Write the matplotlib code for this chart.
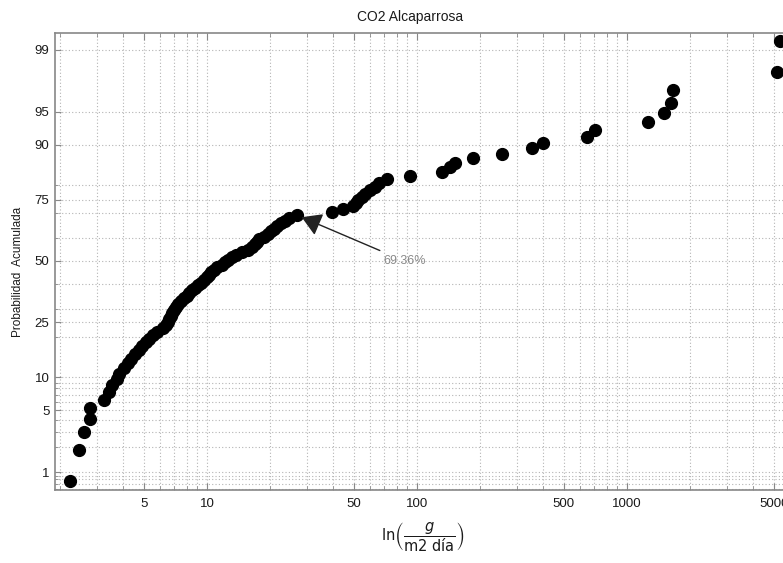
from statistics import NormalDist
import numpy as np
import matplotlib
matplotlib.use("Agg")
from matplotlib import pyplot as plt
from matplotlib.ticker import FixedLocator, LogLocator, FuncFormatter, NullFormatter

plt.rcParams['font.family'] = ['Liberation Sans', 'DejaVu Sans']

# flux values (sorted) and their cumulative probability (%)
flux = [2.23, 2.46, 2.60, 2.77, 2.77, 3.24, 3.43, 3.54, 3.72, 3.83,
        4.01, 4.22, 4.34, 4.52, 4.72, 4.90, 5.10, 5.32, 5.56, 5.81,
        6.17, 6.38, 6.49, 6.60, 6.72, 6.83, 6.95, 7.10, 7.29, 7.55,
        7.80, 8.01, 8.22, 8.47, 8.75, 9.05, 9.35, 9.66, 9.96, 10.2,
        10.5, 10.8, 11.2, 11.8, 12.2, 12.6, 13.1, 13.7, 14.6, 15.6,
        16.3, 17.0, 17.3, 17.7, 18.6, 19.5, 20.2, 20.9, 21.6, 22.5,
        23.5, 24.5, 26.7, 39.5, 44.6, 49.5, 51.5, 52.4, 54.5, 56.5,
        59.7, 63.1, 65.9, 72.2, 92.6, 131, 144, 152, 184, 255,
        354, 399, 643, 704, 1262, 1506, 1614, 1661, 5164, 5355]
prob = [0.77, 1.88, 2.99, 4.09, 5.20, 6.31, 7.41, 8.52, 9.62, 10.73,
        11.84, 12.94, 14.05, 15.15, 16.26, 17.37, 18.47, 19.58, 20.69, 21.79,
        22.90, 24.00, 25.11, 26.22, 27.32, 28.43, 29.54, 30.64, 31.75, 32.85,
        33.96, 35.07, 36.17, 37.28, 38.38, 39.49, 40.60, 41.70, 42.81, 43.92,
        45.02, 46.13, 47.23, 48.34, 49.45, 50.55, 51.66, 52.77, 53.87, 54.98,
        56.08, 57.19, 58.30, 59.40, 60.51, 61.62, 62.72, 63.83, 64.93, 66.04,
        67.15, 68.25, 69.36, 70.46, 71.57, 72.68, 73.78, 74.89, 76.00, 77.10,
        78.21, 79.31, 80.42, 81.53, 82.63, 83.74, 84.85, 85.95, 87.06, 88.16,
        89.27, 90.38, 91.48, 92.59, 93.69, 94.80, 95.91, 97.01, 98.12, 99.23]

y_major = [1, 5, 10, 25, 50, 75, 90, 95, 99]
y_minor = [0.6, 0.7, 0.8, 0.9, 2, 3, 4, 6, 7, 8, 9, 20, 30, 40, 60, 70, 80]
marked = 62  # index of the annotated point
marked_label = "69.36%"

nd = NormalDist()
_ppf = np.vectorize(nd.inv_cdf, otypes=[float])
_cdf = np.vectorize(nd.cdf, otypes=[float])


def to_probit(p):
    p = np.clip(np.asarray(p, dtype=float) / 100.0, 1e-9, 1 - 1e-9)
    return _ppf(p)


def from_probit(z):
    return _cdf(np.asarray(z, dtype=float)) * 100.0


fig = plt.figure(figsize=(7.83, 5.63), dpi=100)
ax = fig.add_axes([55 / 783, 1 - 490 / 563, 728 / 783, 457 / 563])

ax.set_xscale('log')
ax.set_yscale('function', functions=(to_probit, from_probit))
ax.set_xlim(1.889, 5533)
ax.set_ylim(0.579, 99.40)

ax.plot(flux, prob, 'o', color='black', ms=8.5, zorder=3)

# ticks
ax.xaxis.set_major_locator(LogLocator(base=10, subs=(1.0, 5.0)))
ax.xaxis.set_minor_locator(LogLocator(base=10, subs=(2.0, 3.0, 4.0, 6.0, 7.0, 8.0, 9.0)))
ax.xaxis.set_major_formatter(FuncFormatter(lambda v, _: f'{v:g}'))
ax.xaxis.set_minor_formatter(NullFormatter())
ax.yaxis.set_major_locator(FixedLocator(y_major))
ax.yaxis.set_minor_locator(FixedLocator(y_minor))
ax.yaxis.set_major_formatter(FuncFormatter(lambda v, _: f'{v:g}'))
ax.yaxis.set_minor_formatter(NullFormatter())

ax.tick_params(axis='both', which='both', direction='in', color='#888888',
               labelcolor='#1a1a1a', labelsize=9.5)
ax.tick_params(axis='x', which='major', length=5, top=True, pad=6)
ax.tick_params(axis='x', which='minor', length=3, top=True)
ax.tick_params(axis='y', which='major', length=4, right=False, pad=4)
ax.tick_params(axis='y', which='minor', length=2, right=False)

ax.grid(True, which='both', color='#b4b4b4', linestyle=(0, (1, 2)), lw=0.8)
ax.set_axisbelow(True)

for side in ['left', 'top', 'bottom']:
    ax.spines[side].set_color('#888888')
    ax.spines[side].set_linewidth(1.2)
ax.spines['right'].set_visible(False)

# annotation
ax.annotate(marked_label, xy=(flux[marked], prob[marked]), xytext=(68.9, 50.0),
            color='#8a8a8a', fontsize=9, ha='left', va='center',
            arrowprops=dict(arrowstyle='-|>,head_length=0.5,head_width=0.3',
                            color='#222222', lw=1,
                            mutation_scale=24, shrinkA=3, shrinkB=4))

fig.text(410 / 783, 1 - 17 / 563, 'CO2 Alcaparrosa', ha='center', va='center',
         fontsize=10, color='#1a1a1a')
fig.text(18 / 783, 1 - 272 / 563, 'Probabilidad  Acumulada', rotation=90,
         ha='center', va='center', fontsize=8.5, color='#1a1a1a')
fig.text(423 / 783, 1 - 537 / 563, r'$\mathrm{ln}\left(\dfrac{g}{\mathrm{m2\ día}}\right)$',
         ha='center', va='center', fontsize=10.5, color='#1a1a1a')

fig.savefig('out.png', dpi=100)
